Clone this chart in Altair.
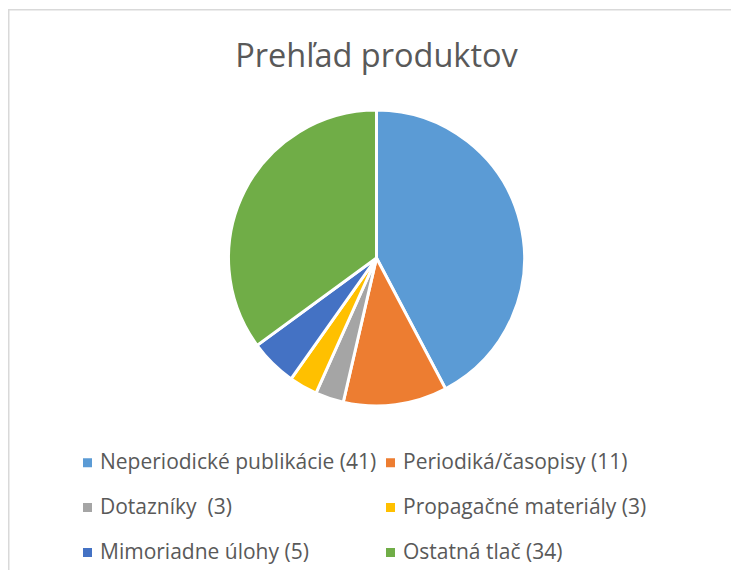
import altair as alt
import pandas as pd

categories = [
    "Neperiodické publikácie (41)",
    "Periodiká/časopisy (11)",
    "Dotazníky \u00a0(3)",
    "Propagačné materiály (3)",
    "Mimoriadne úlohy (5)",
    "Ostatná tlač (34)",
]
values = [41, 11, 3, 3, 5, 34]
colors = ["#5B9BD5", "#ED7D31", "#A5A5A5", "#FFC000", "#4472C4", "#70AD47"]
title_text = "Prehľad produktov"

df = pd.DataFrame({"cat": categories, "val": values, "idx": list(range(len(values)))})

# legend fills column-major: reorder so rows read left-to-right like the original
legend_order = [categories[i] for i in (0, 2, 4, 1, 3, 5)]

W, H = 723, 562
FONT = "Open Sans"

pie = alt.Chart(df).mark_arc(
    radius=148, stroke="white", strokeWidth=3, strokeJoin="miter"
).encode(
    theta=alt.Theta("val:Q", stack=True),
    order=alt.Order("idx:O"),
    color=alt.Color(
        "cat:N",
        scale=alt.Scale(domain=categories, range=colors),
        sort=categories,
        legend=alt.Legend(
            title=None,
            orient="none",
            legendX=69,
            legendY=444,
            columns=2,
            columnPadding=3,
            rowPadding=23,
            values=legend_order,
            symbolType="square",
            symbolSize=81,
            symbolStrokeWidth=0,
            labelFontSize=21,
            labelFont=FONT,
            labelColor="#595959",
            labelLimit=0,
            labelOffset=2,
        ),
    ),
    x=alt.value(368.5),
    y=alt.value(250),
)

title = alt.Chart(pd.DataFrame({"t": [title_text]})).mark_text(
    font=FONT, fontSize=32.5, color="#595959", baseline="alphabetic", align="center"
).encode(text="t:N", x=alt.value(368.5), y=alt.value(58.7))

frame = alt.Chart(pd.DataFrame({"a": [0]})).mark_rect(
    fill=None, stroke="#d9d9d9", strokeWidth=1.5
).encode(x=alt.value(0.75), y=alt.value(1.75), x2=alt.value(W + 20), y2=alt.value(H + 20))

chart = alt.layer(frame, pie, title).properties(
    width=W, height=H, padding=0, autosize=alt.AutoSizeParams(type="none"), background="white"
).configure_view(stroke=None)

chart.save("out.html", embed_options={"renderer": "svg", "actions": False})
